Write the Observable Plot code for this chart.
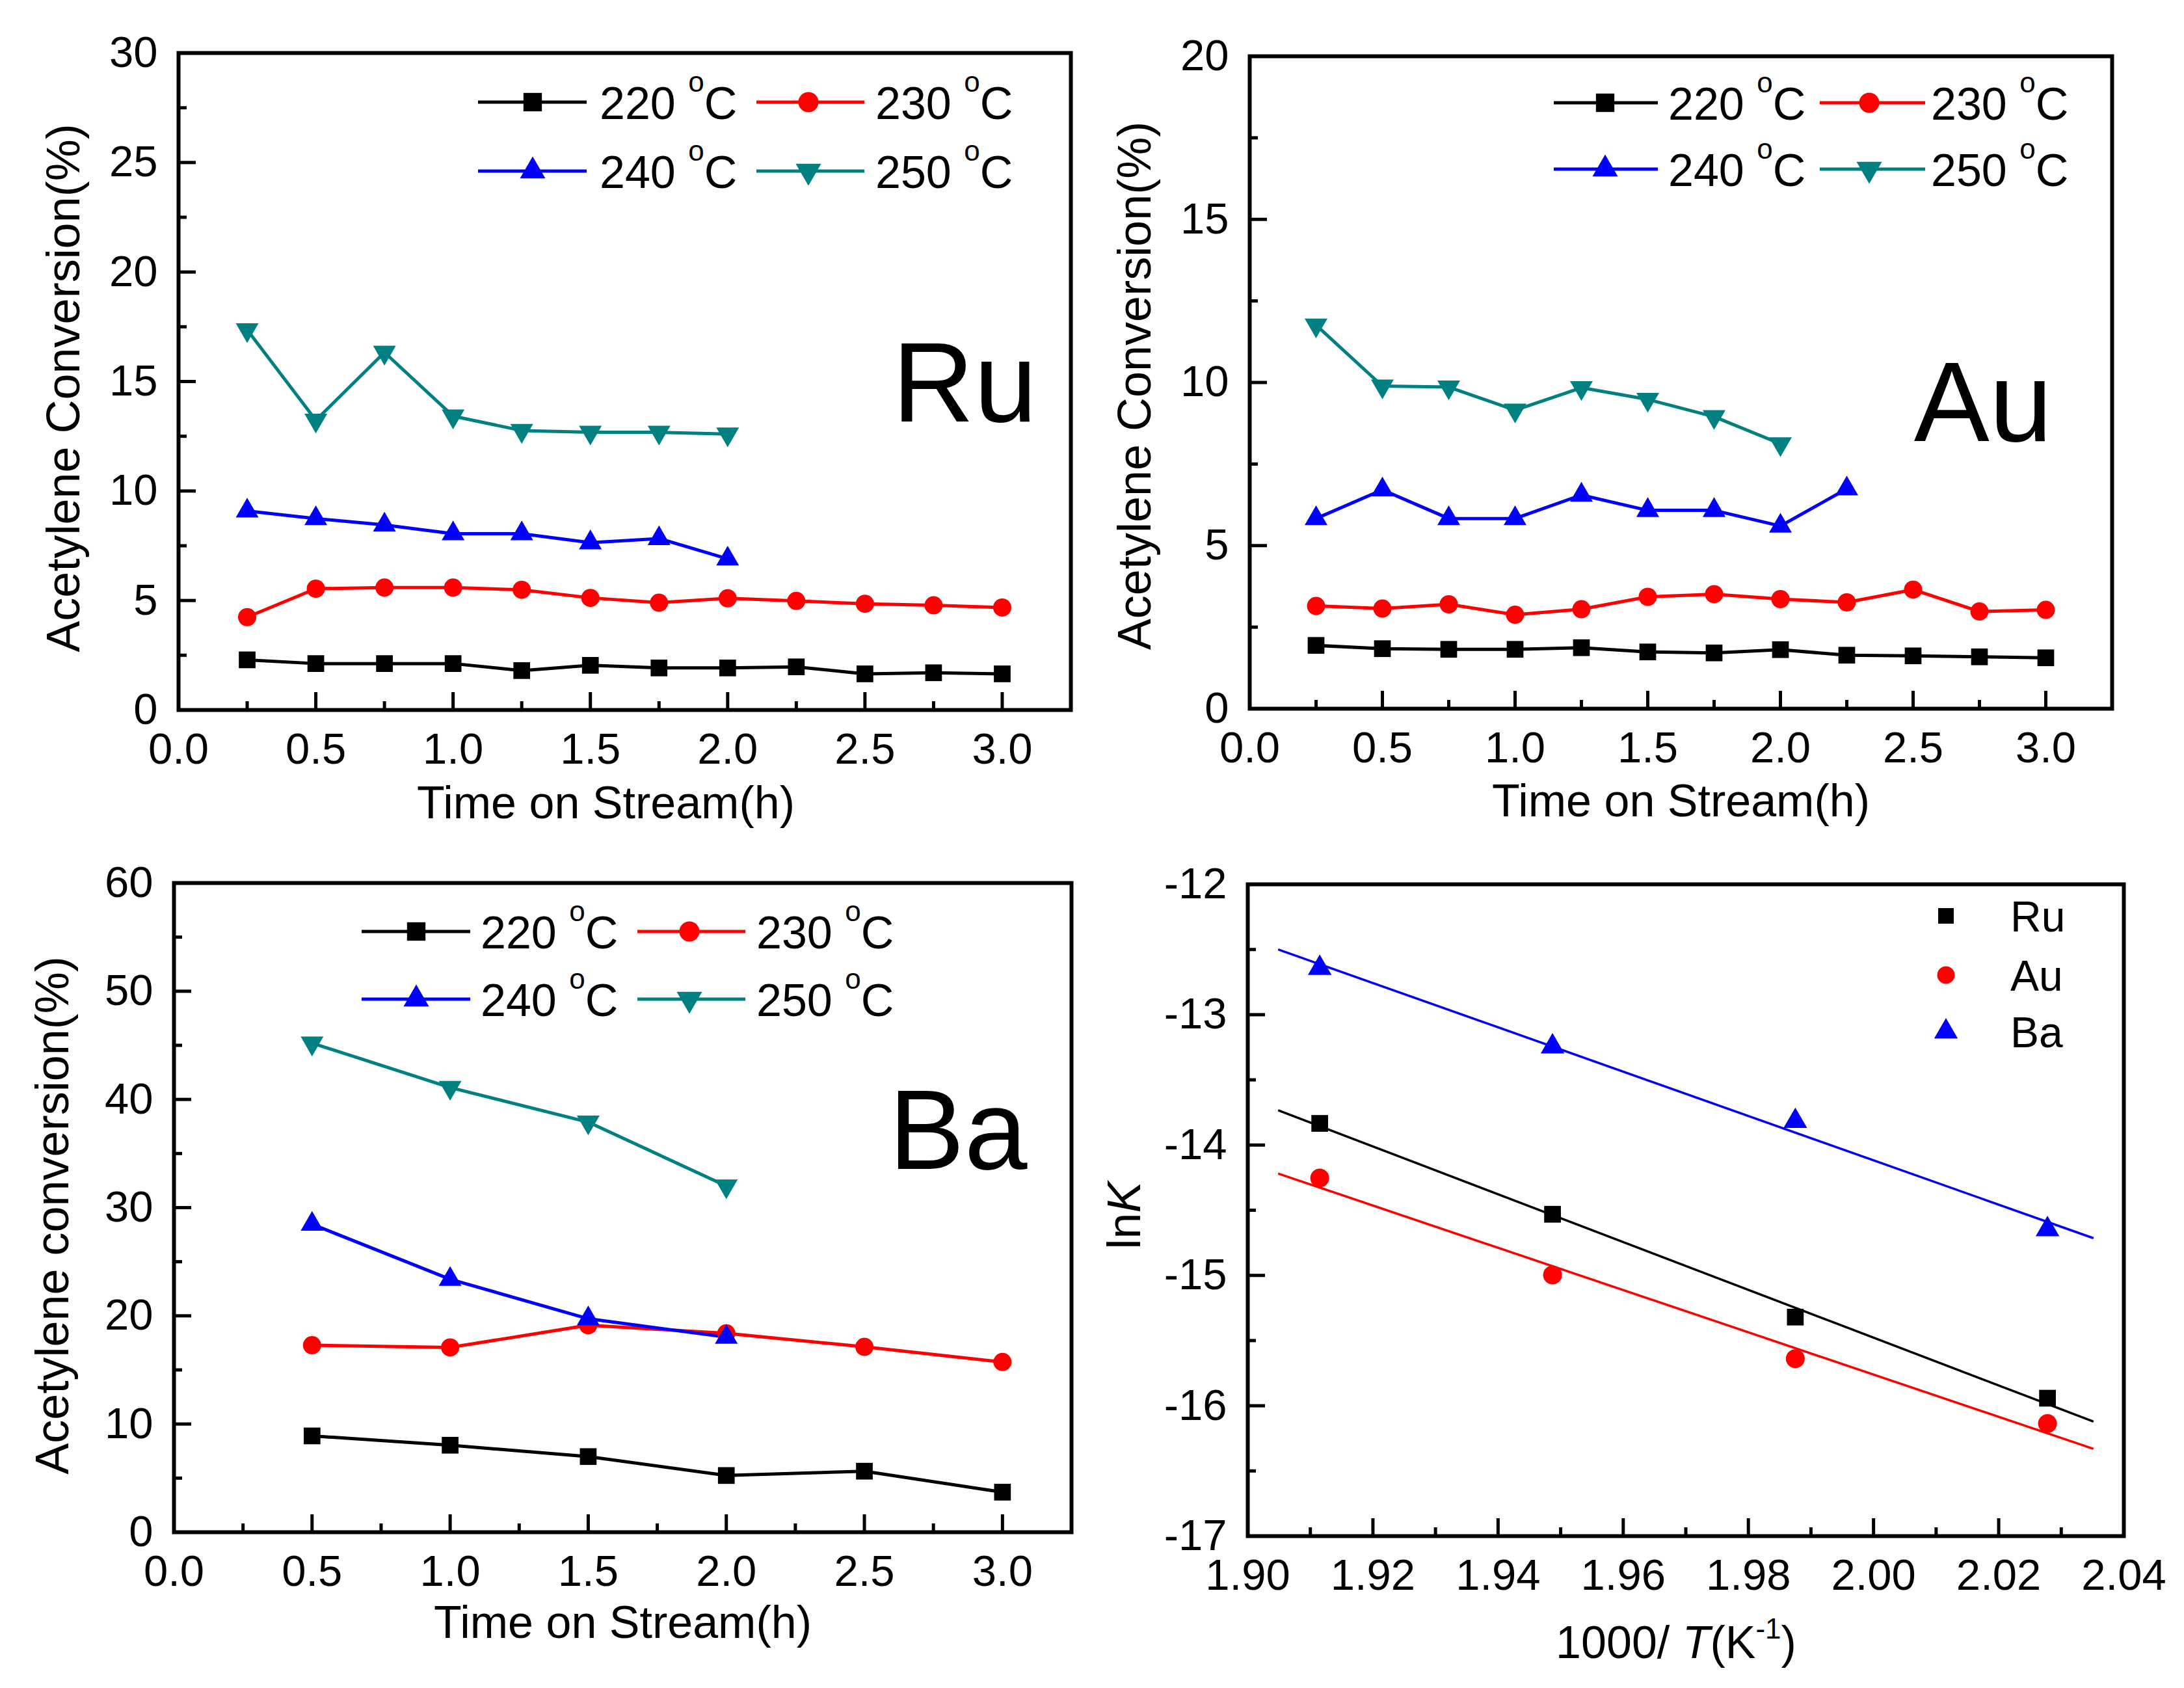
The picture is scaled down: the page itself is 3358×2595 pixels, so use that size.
<!DOCTYPE html>
<html><head><meta charset="utf-8">
<script src="https://cdn.jsdelivr.net/npm/d3@7"></script>
<script src="https://cdn.jsdelivr.net/npm/@observablehq/plot@0.6"></script>
<style>
html,body{margin:0;padding:0;background:#fff;}
#fig{position:relative;width:3358px;height:2595px;background:#fff;overflow:hidden;}
#fig > svg{position:absolute;}
text{white-space:pre;}
</style></head><body><div id="fig"></div>
<script>
const FONT = '"Liberation Sans", Arial, Helvetica, sans-serif';

// ---------- data ----------
const temps = ["220", "230", "240", "250"];
const seriesColors = ["#000000", "#ff0000", "#0000ff", "#008080"];

const ruTime = [0.25, 0.5, 0.75, 1.0, 1.25, 1.5, 1.75, 2.0, 2.25, 2.5, 2.75, 3.0];
const ru220 = [2.29, 2.12, 2.12, 2.12, 1.80, 2.04, 1.92, 1.92, 1.97, 1.65, 1.70, 1.65];
const ru230 = [4.24, 5.54, 5.59, 5.59, 5.49, 5.12, 4.90, 5.10, 4.98, 4.85, 4.78, 4.68];
const ru240 = [9.09, 8.74, 8.45, 8.05, 8.05, 7.64, 7.83, 6.90];
const ru250 = [17.36, 13.23, 16.33, 13.42, 12.76, 12.68, 12.68, 12.60];

const auTime = [0.25, 0.5, 0.75, 1.0, 1.25, 1.5, 1.75, 2.0, 2.25, 2.5, 2.75, 3.0];
const au220 = [1.94, 1.84, 1.82, 1.82, 1.87, 1.74, 1.71, 1.81, 1.64, 1.62, 1.59, 1.56];
const au230 = [3.15, 3.07, 3.20, 2.88, 3.05, 3.43, 3.51, 3.36, 3.26, 3.65, 2.98, 3.03];
const au240 = [5.83, 6.71, 5.83, 5.83, 6.55, 6.08, 6.08, 5.60, 6.74];
const au250 = [11.76, 9.89, 9.86, 9.15, 9.84, 9.48, 8.95, 8.12];

const baTime = [0.5, 1.0, 1.5, 2.0, 2.5, 3.0];
const ba220 = [8.90, 8.04, 6.99, 5.24, 5.64, 3.70];
const ba230 = [17.28, 17.08, 19.13, 18.38, 17.13, 15.73];
const ba240 = [28.47, 23.38, 19.73, 18.03];
const ba250 = [45.2, 41.1, 37.9, 32.0];

const catalysts = ["Ru", "Au", "Ba"];
const invT = [1.9115, 1.9487, 1.9875, 2.0278];
const lnkRu = [-13.834, -14.531, -15.320, -15.942];
const lnkAu = [-14.253, -14.996, -15.639, -16.137];
const lnkBa = [-12.643, -13.245, -13.817, -14.647];
const fitRange = [1.905, 2.035];

// ticks
const timeTicks = [0, 0.5, 1.0, 1.5, 2.0, 2.5, 3.0];
const timeMinor = [0.25, 0.75, 1.25, 1.75, 2.25, 2.75];
const ruYTicks = [0, 5, 10, 15, 20, 25, 30];
const ruYMinor = [2.5, 7.5, 12.5, 17.5, 22.5, 27.5];
const auYTicks = [0, 5, 10, 15, 20];
const auYMinor = [2.5, 7.5, 12.5, 17.5];
const baYTicks = [0, 10, 20, 30, 40, 50, 60];
const baYMinor = [5, 15, 25, 35, 45, 55];
const arrXTicks = [1.90, 1.92, 1.94, 1.96, 1.98, 2.00, 2.02, 2.04];
const arrXMinor = [1.91, 1.93, 1.95, 1.97, 1.99, 2.01, 2.03];
const arrYTicks = [-17, -16, -15, -14, -13, -12];
const arrYMinor = [-16.5, -15.5, -14.5, -13.5, -12.5];

// ---------- helpers ----------
const triangleDown = {
  draw(context, size) {
    const s3 = Math.sqrt(3);
    const y = -Math.sqrt(size / (s3 * 3));
    context.moveTo(0, -y * 2);
    context.lineTo(-s3 * y, y);
    context.lineTo(s3 * y, y);
    context.closePath();
  }
};
const plotSymbols = ["square", "circle", "triangle", triangleDown];
const d3Symbols = [d3.symbolSquare, d3.symbolCircle, d3.symbolTriangle, triangleDown];
const symbolR = [14.5, 14, 13, 13];

function rows(xs, ys) { return ys.map((y, i) => ({x: xs[i], y})); }

function fitLine(xs, ys) {
  const mx = d3.mean(xs), my = d3.mean(ys);
  const b = d3.sum(xs, (x, i) => (x - mx) * (ys[i] - my)) / d3.sum(xs, x => (x - mx) ** 2);
  const a = my - b * mx;
  return fitRange.map(x => ({x, y: a + b * x}));
}

const fig = document.getElementById("fig");
const MAJOR = 27, MINOR = 13;

function buildPanel(o) {
  const marks = [
    Plot.axisX(o.xTicks, {tickSize: -MAJOR, tickPadding: MAJOR + 35, tickFormat: o.xFormat, strokeWidth: 5, label: null}),
    Plot.axisX(o.xMinor, {tickSize: -MINOR, tickFormat: () => "", strokeWidth: 5, label: null}),
    Plot.axisY(o.yTicks, {tickSize: -MAJOR, tickPadding: MAJOR + 32, tickFormat: o.yFormat, strokeWidth: 5, label: null}),
    Plot.axisY(o.yMinor, {tickSize: -MINOR, tickFormat: () => "", strokeWidth: 5, label: null})
  ];
  (o.fits || []).forEach(f => marks.push(Plot.line(f.rows, {x: "x", y: "y", stroke: f.color, strokeWidth: 3.5})));
  o.series.forEach(s => {
    if (s.line) marks.push(Plot.line(s.rows, {x: "x", y: "y", stroke: s.color, strokeWidth: 5}));
  });
  o.series.forEach(s => marks.push(Plot.dot(s.rows, {x: "x", y: "y", symbol: s.symbol, fill: s.color, stroke: "none", r: s.r})));
  marks.push(Plot.frame({stroke: "#000", strokeWidth: 6}));
  marks.push(Plot.text([o.xLabel], {text: d => d, frameAnchor: "bottom", textAnchor: "middle", lineAnchor: "middle", dx: o.xLab[0], dy: o.xLab[1], fontSize: 70}));
  marks.push(Plot.text([o.yLabel], {text: d => d, frameAnchor: "left", textAnchor: "middle", rotate: -90, lineAnchor: "middle", dx: o.yLab[0], dy: o.yLab[1], fontSize: 72}));
  if (o.tag) marks.push(Plot.text([o.tag], {text: d => d, frameAnchor: "top-right", textAnchor: "end", lineAnchor: "bottom", dx: o.tagPos[0], dy: o.tagPos[1], fontSize: 174}));
  const svg = Plot.plot({
    width: o.width, height: o.height,
    marginLeft: o.m[0], marginRight: o.m[1], marginTop: o.m[2], marginBottom: o.m[3],
    x: {domain: o.xDomain}, y: {domain: o.yDomain},
    style: {fontFamily: FONT, fontSize: "67px", background: "transparent", color: "#000", overflow: "visible"},
    marks
  });
  svg.style.left = o.left + "px";
  svg.style.top = o.top + "px";
  fig.appendChild(svg);
  return svg;
}

function addTempLegend(svg, L) {
  const g = d3.select(svg).append("g").attr("font-family", FONT).attr("font-size", 70).attr("text-anchor", "start");
  temps.forEach((t, i) => {
    const c = L.cols[i % 2], y = L.rows[Math.floor(i / 2)];
    g.append("line").attr("x1", c[0]).attr("x2", c[1]).attr("y1", y).attr("y2", y)
      .attr("stroke", seriesColors[i]).attr("stroke-width", 5);
    const r = symbolR[i] + 1.5;
    g.append("path").attr("transform", `translate(${c[2]},${y})`)
      .attr("d", d3.symbol(d3Symbols[i], Math.PI * r * r)()).attr("fill", seriesColors[i]);
    const tx = g.append("text").attr("x", c[3]).attr("y", y + 26).attr("fill", "#000").attr("text-anchor", "start");
    tx.append("tspan").text(t + " ");
    tx.append("tspan").attr("font-size", 44).attr("dy", -42).text("o");
    tx.append("tspan").attr("dy", 42).text("C");
  });
}

function timeSeries(time, arrs) {
  return arrs.map((a, i) => ({rows: rows(time, a), color: seriesColors[i], symbol: plotSymbols[i], r: symbolR[i], line: true}));
}

const f1 = d3.format(".1f");

// ---------- Ru ----------
const ruSvg = buildPanel({
  left: 0, top: 0, width: 1679, height: 1297, m: [274, 33, 81, 206],
  xDomain: [0, 3.25], yDomain: [0, 30],
  xTicks: timeTicks, xMinor: timeMinor, xFormat: f1,
  yTicks: ruYTicks, yMinor: ruYMinor, yFormat: d => String(d),
  series: timeSeries(ruTime, [ru220, ru230, ru240, ru250]),
  xLabel: "Time on Stream(h)", xLab: [-29, 144],
  yLabel: "Acetylene Conversion(%)", yLab: [-176, 10],
  tag: "Ru", tagPos: [-52, 566]
});
addTempLegend(ruSvg, {rows: [157, 263], cols: [[735, 902, 819, 922], [1163, 1329, 1243, 1346]]});

// ---------- Au ----------
const auSvg = buildPanel({
  left: 1679, top: 0, width: 1679, height: 1297, m: [242, 111, 86, 208],
  xDomain: [0, 3.25], yDomain: [0, 20],
  xTicks: timeTicks, xMinor: timeMinor, xFormat: f1,
  yTicks: auYTicks, yMinor: auYMinor, yFormat: d => String(d),
  series: timeSeries(auTime, [au220, au230, au240, au250]),
  xLabel: "Time on Stream(h)", xLab: [0, 143],
  yLabel: "Acetylene Conversion(%)", yLab: [-176, 5],
  tag: "Au", tagPos: [-92, 591]
});
addTempLegend(auSvg, {rows: [158, 260], cols: [[710, 870, 789, 886], [1119, 1281, 1195, 1290]]});

// ---------- Ba ----------
const baSvg = buildPanel({
  left: 0, top: 1297, width: 1679, height: 1298, m: [267, 32, 60, 240],
  xDomain: [0, 3.25], yDomain: [0, 60],
  xTicks: timeTicks, xMinor: timeMinor, xFormat: f1,
  yTicks: baYTicks, yMinor: baYMinor, yFormat: d => String(d),
  series: timeSeries(baTime, [ba220, ba230, ba240, ba250]),
  xLabel: "Time on Stream(h)", xLab: [0, 140],
  yLabel: "Acetylene conversion(%)", yLab: [-186, 12],
  tag: "Ba", tagPos: [-68, 439]
});
addTempLegend(baSvg, {rows: [135, 239], cols: [[556, 723, 640, 739], [980, 1146, 1060, 1163]]});

// ---------- Arrhenius ----------
const lnkSets = [lnkRu, lnkAu, lnkBa];
const arrColors = ["#000000", "#ff0000", "#0000ff"];
const arrSvg = buildPanel({
  left: 1679, top: 1297, width: 1679, height: 1298, m: [239, 93, 62, 234],
  xDomain: [1.90, 2.04], yDomain: [-17, -12],
  xTicks: arrXTicks, xMinor: arrXMinor, xFormat: d3.format(".2f"),
  yTicks: arrYTicks, yMinor: arrYMinor, yFormat: d => String(d),
  fits: lnkSets.map((s, i) => ({rows: fitLine(invT, s), color: arrColors[i]})),
  series: lnkSets.map((s, i) => ({rows: rows(invT, s), color: arrColors[i], symbol: plotSymbols[i], r: i === 2 ? 13.5 : 14.5, line: false})),
  xLabel: "1000/ T(K-1)", xLab: [-15, 165],
  yLabel: "lnK", yLab: [-189, 8]
});
// rich text for the Arrhenius axis titles
d3.select(arrSvg).selectAll("text").each(function () {
  const el = d3.select(this);
  if (this.textContent === "lnK") {
    el.text(null);
    el.append("tspan").text("ln");
    el.append("tspan").attr("font-style", "italic").text("K");
  } else if (this.textContent === "1000/ T(K-1)") {
    el.text(null);
    el.append("tspan").text("1000/ ");
    el.append("tspan").attr("font-style", "italic").text("T");
    el.append("tspan").text("(K");
    el.append("tspan").attr("font-size", 44).attr("dy", -30).text("-1");
    el.append("tspan").attr("dy", 30).text(")");
  }
});
// legend for Arrhenius panel
{
  const g = d3.select(arrSvg).append("g").attr("font-family", FONT).attr("font-size", 66).attr("text-anchor", "start");
  const ly = [111, 202, 289];
  catalysts.forEach((c, i) => {
    g.append("path").attr("transform", `translate(1313,${ly[i]})`)
      .attr("d", d3.symbol(d3Symbols[i], Math.PI * 13.5 * 13.5)()).attr("fill", arrColors[i]);
    g.append("text").attr("x", 1412).attr("y", ly[i] + 24).attr("fill", "#000").attr("text-anchor", "start").text(c);
  });
}
</script></body></html>
